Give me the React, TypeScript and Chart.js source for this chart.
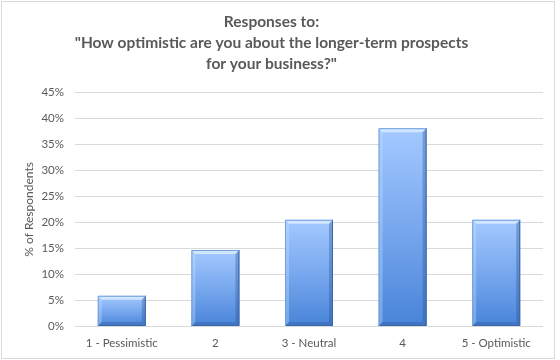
import React, { useEffect, useRef } from "react";
import { Chart, registerables } from "chart.js";

Chart.register(...registerables);

const titleLines = [
  "Responses to:",
  "\"How optimistic are you about the longer-term prospects",
  "for your business?\"",
];
const categories = ["1 - Pessimistic", "2", "3 - Neutral", "4", "5 - Optimistic"];
const percentValues = [0.059, 0.147, 0.205, 0.381, 0.205];
const yAxisTitle = "% of Respondents";
const yMax = 0.45;
const yStep = 0.05;

const FONT = "Lato, 'Open Sans', 'DejaVu Sans', sans-serif";
const TEXT = "#595959";

const frame = {
  id: "frame",
  beforeDraw(chart: any) {
    const { ctx, width, height } = chart;
    ctx.save();
    ctx.fillStyle = "#ffffff";
    ctx.fillRect(0, 0, width, height);
    ctx.strokeStyle = "#d9d9d9";
    ctx.lineWidth = 1;
    ctx.strokeRect(1.5, 1.5, 553, 357);
    ctx.restore();
  },
};

const bevel = {
  id: "bevel",
  afterDatasetsDraw(chart: any) {
    const { ctx } = chart;
    const meta = chart.getDatasetMeta(0);
    ctx.save();
    meta.data.forEach((bar: any) => {
      const l = bar.x - bar.width / 2;
      const r = bar.x + bar.width / 2;
      const t = bar.y;
      const b = bar.base;
      const d = 4;
      ctx.fillStyle = "rgba(225,240,255,0.75)";
      ctx.beginPath();
      ctx.moveTo(l, t);
      ctx.lineTo(r, t);
      ctx.lineTo(r - d, t + d);
      ctx.lineTo(l + d, t + d);
      ctx.closePath();
      ctx.fill();
      ctx.fillStyle = "rgba(200,225,255,0.35)";
      ctx.beginPath();
      ctx.moveTo(l, t);
      ctx.lineTo(l + d, t + d);
      ctx.lineTo(l + d, b - d);
      ctx.lineTo(l, b);
      ctx.closePath();
      ctx.fill();
      ctx.fillStyle = "rgba(40,80,150,0.35)";
      ctx.beginPath();
      ctx.moveTo(r, t);
      ctx.lineTo(r - d, t + d);
      ctx.lineTo(r - d, b - d);
      ctx.lineTo(r, b);
      ctx.closePath();
      ctx.fill();
      ctx.fillStyle = "rgba(40,80,150,0.3)";
      ctx.beginPath();
      ctx.moveTo(l, b);
      ctx.lineTo(l + d, b - d);
      ctx.lineTo(r - d, b - d);
      ctx.lineTo(r, b);
      ctx.closePath();
      ctx.fill();
      ctx.strokeStyle = "#3a67a8";
      ctx.lineWidth = 1;
      ctx.beginPath();
      ctx.moveTo(r - 0.5, t);
      ctx.lineTo(r - 0.5, b - 0.5);
      ctx.lineTo(l, b - 0.5);
      ctx.stroke();
      ctx.strokeStyle = "#6f9fe0";
      ctx.beginPath();
      ctx.moveTo(l + 0.5, b);
      ctx.lineTo(l + 0.5, t + 0.5);
      ctx.lineTo(r, t + 0.5);
      ctx.stroke();
    });
    ctx.restore();
  },
};

export default function App() {
  const ref = useRef<HTMLCanvasElement>(null);
  useEffect(() => {
    if (!ref.current) return;
    const chart = new Chart(ref.current, {
      type: "bar",
      data: {
        labels: categories,
        datasets: [
          {
            data: percentValues,
            backgroundColor: (c: any) => {
              const ch = c.chart;
              const ys = ch.scales && ch.scales.y;
              if (!ys || c.parsed == null) return "#6a9fe6";
              const top = ys.getPixelForValue(c.parsed.y);
              const bot = ys.getPixelForValue(0);
              if (!isFinite(top) || !isFinite(bot) || top === bot) return "#6a9fe6";
              const g = ch.ctx.createLinearGradient(0, top, 0, bot);
              g.addColorStop(0, "#a4c9ff");
              g.addColorStop(0.5, "#78a8ee");
              g.addColorStop(1, "#4884d8");
              return g;
            },
            borderWidth: 0,
            categoryPercentage: 1,
            barPercentage: 0.513,
          },
        ],
      },
      options: {
        animation: false,
        responsive: false,
        maintainAspectRatio: false,
        layout: { padding: { left: 0, right: 17, top: 0, bottom: 0 } },
        plugins: {
          legend: { display: false },
          tooltip: { enabled: false },
          title: {
            display: true,
            text: titleLines,
            color: TEXT,
            font: { family: FONT, size: 15.5, weight: "bold", lineHeight: 1.35 },
            padding: { top: 12, bottom: 17.5 },
          },
        },
        scales: {
          x: {
            grid: { display: false, drawTicks: false },
            border: { display: false },
            ticks: { color: TEXT, font: { family: FONT, size: 11.5 }, padding: 10, maxRotation: 0 },
            afterFit: (s: any) => {
              s.height = 33.5;
            },
          },
          y: {
            min: 0,
            max: yMax,
            grid: { color: "#d9d9d9", lineWidth: 1, drawTicks: false },
            border: { display: false },
            ticks: {
              stepSize: yStep,
              color: TEXT,
              font: { family: FONT, size: 11.5 },
              padding: 11,
              callback: (v: any) => Math.round(Number(v) * 100) + "%",
            },
            title: {
              display: true,
              text: yAxisTitle,
              color: TEXT,
              font: { family: FONT, size: 12 },
              padding: { top: 22, bottom: 0 },
            },
            afterFit: (s: any) => {
              s.width = 75;
            },
          },
        },
      },
      plugins: [frame, bevel],
    } as any);
    return () => chart.destroy();
  }, []);
  return (
    <div style={{ position: "fixed", left: 0, top: 0, width: 560, height: 360, background: "#fff" }}>
      <canvas ref={ref} width={560} height={360} style={{ display: "block", width: 560, height: 360 }} />
    </div>
  );
}
